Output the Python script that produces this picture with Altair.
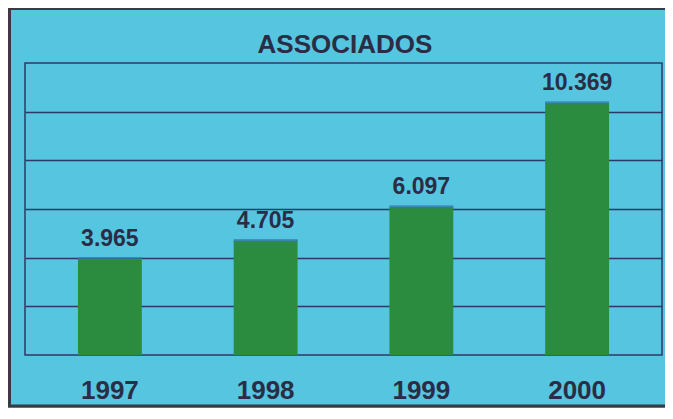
import altair as alt
import pandas as pd

years = ["1997", "1998", "1999", "2000"]
values = [3965, 4705, 6097, 10369]
labels = ["3.965", "4.705", "6.097", "10.369"]
grid_values = [2000, 4000, 6000, 8000, 10000]
title_text = "ASSOCIADOS"

df = pd.DataFrame({"ano": years, "valor": values, "rotulo": labels})
one = pd.DataFrame({"k": [0]})

FONT = "Liberation Sans"
TXT = "#2a2d45"
LINE = "#2b3b66"

x_enc = alt.X("ano:N", sort=years,
              scale=alt.Scale(paddingInner=0.59, paddingOuter=0.34),
              axis=alt.Axis(title=None, labelAngle=0, labelFont=FONT, labelFontSize=26,
                            labelFontWeight="bold", labelColor=TXT, labelPadding=22,
                            ticks=False, domain=False, grid=False))
y_scale = alt.Scale(domain=[0, 12000], nice=False)

bars = alt.Chart(df).mark_bar(color="#2b8c3f").encode(
    x=x_enc,
    y=alt.Y("valor:Q", scale=y_scale,
            axis=alt.Axis(title=None, labels=False, ticks=False, domain=False,
                          values=grid_values, grid=True, gridColor=LINE, gridWidth=1.5)),
)

tops = alt.Chart(df).mark_tick(color="#3577b8", thickness=3, size=64).encode(
    x=alt.X("ano:N", sort=years),
    y=alt.Y("valor:Q", scale=y_scale),
)

texts = alt.Chart(df).mark_text(font=FONT, fontSize=23, fontWeight="bold", color=TXT,
                                baseline="alphabetic", dy=-13).encode(
    x=alt.X("ano:N", sort=years),
    y=alt.Y("valor:Q", scale=y_scale),
    text="rotulo:N",
)

title = alt.Chart(pd.DataFrame({"t": [title_text]})).mark_text(
    font=FONT, fontSize=26, fontWeight="bold", color=TXT,
    baseline="alphabetic", align="center").encode(
    x=alt.value(320), y=alt.value(-10), text="t:N")

frame_left = alt.Chart(one).mark_rule(color="#3a3a40", strokeWidth=3).encode(
    x=alt.value(-15.5), y=alt.value(-55), y2=alt.value(344))
frame_top = alt.Chart(one).mark_rule(color="#3a3a40", strokeWidth=3).encode(
    y=alt.value(-54.5), x=alt.value(-17), x2=alt.value(641))
frame_bottom = alt.Chart(one).mark_rule(color="#3a3a40", strokeWidth=3).encode(
    y=alt.value(343), x=alt.value(-17), x2=alt.value(641))

chart = alt.layer(bars, tops, texts, title, frame_left, frame_top, frame_bottom).properties(
    width=637, height=292,
    autosize=alt.AutoSizeParams(type="none"),
    padding={"left": 17, "top": 55, "right": 3, "bottom": 53},
    background="#55c5e0",
).configure_view(stroke=LINE, strokeWidth=1.5)

chart.save("out.html", embed_options={"renderer": "svg", "actions": False})
